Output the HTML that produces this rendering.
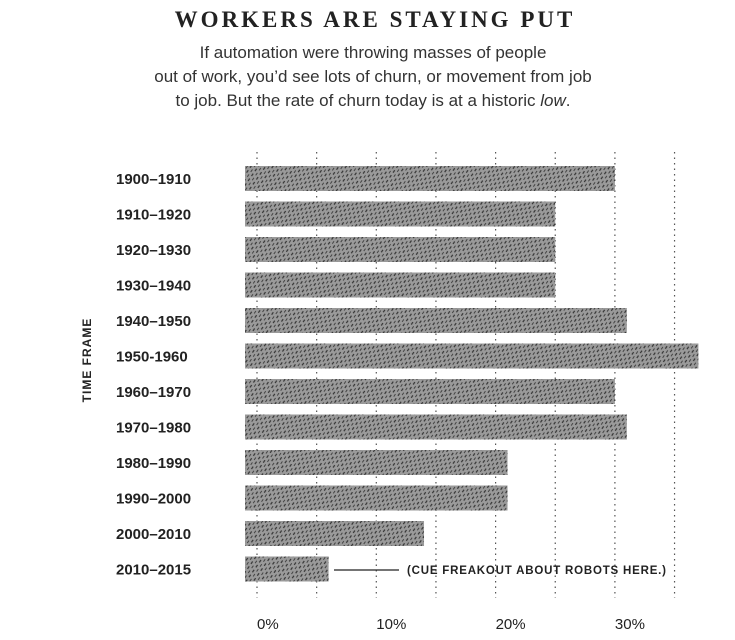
<!DOCTYPE html>
<html><head><meta charset="utf-8"><style>
body{margin:0;background:#fff;width:735px;height:635px;overflow:hidden;font-family:"Liberation Sans",sans-serif}
</style></head><body>
<svg width="735" height="635" xmlns="http://www.w3.org/2000/svg">
<defs>
<pattern id="hatch" width="6" height="6" patternUnits="userSpaceOnUse" patternTransform="rotate(-55)">
<rect width="6" height="6" fill="#9a9a9a"/>
<line x1="0" y1="1" x2="3" y2="1" stroke="#333" stroke-width="1.2"/>
<line x1="3" y1="4" x2="6" y2="4" stroke="#444" stroke-width="1"/>
</pattern>
</defs>
<text x="375" y="27" text-anchor="middle" font-family="Liberation Serif,serif" font-weight="bold" font-size="23" letter-spacing="3" fill="#222">WORKERS ARE STAYING PUT</text>
<g font-size="17" fill="#333" text-anchor="middle">
<text x="373" y="58">If automation were throwing masses of people</text>
<text x="373" y="82">out of work, you’d see lots of churn, or movement from job</text>
<text x="373" y="106">to job. But the rate of churn today is at a historic <tspan font-style="italic">low</tspan>.</text>
</g>
<text transform="translate(91,360) rotate(-90)" text-anchor="middle" font-size="12" font-weight="bold" letter-spacing="1" fill="#222">TIME FRAME</text>
<g id="grid"></g><g id="bars"></g><g id="labels"></g><g id="ticks"></g>
<line x1="334" y1="570" x2="399" y2="570" stroke="#222" stroke-width="1.3"/>
<text x="407" y="574" font-size="11.5" font-weight="bold" letter-spacing="0.8" fill="#222">(CUE FREAKOUT ABOUT ROBOTS HERE.)</text>
</svg>
<script>
const categories=["1900–1910","1910–1920","1920–1930","1930–1940","1940–1950","1950-1960","1960–1970","1970–1980","1980–1990","1990–2000","2000–2010","2010–2015"];
const values=[30,25,25,25,31,37,30,31,21,21,14,6];
const tickValues=[0,10,20,30];
const tickLabels=["0%","10%","20%","30%"];
const gridValues=[0,5,10,15,20,25,30,35];
const NS="http://www.w3.org/2000/svg";
const x=v=>257+v*11.93;
const y=i=>166+i*35.5;
function mk(t,a,p){const e=document.createElementNS(NS,t);for(const k in a)e.setAttribute(k,a[k]);document.getElementById(p).appendChild(e);return e;}
gridValues.forEach(v=>{
 const e=mk("line",{x1:x(v),x2:x(v),y1:152,y2:598,stroke:"#555","stroke-width":1.2,"stroke-dasharray":"1.5 4"},"grid");
 
 
});
categories.forEach((c,i)=>{
 const r=mk("rect",{x:245,y:y(i),width:x(values[i])-245,height:25,fill:"url(#hatch)"},"bars");
 
 
 const t=mk("text",{x:116,y:y(i)+18,"font-size":15,"font-weight":"bold",fill:"#222"},"labels");
 t.textContent=c;
 
 
});
tickValues.forEach((v,i)=>{
 const t=mk("text",{x:x(v),y:629,"font-size":15,fill:"#222"},"ticks");
 t.textContent=tickLabels[i];
 
 
});
</script>
</body></html>
